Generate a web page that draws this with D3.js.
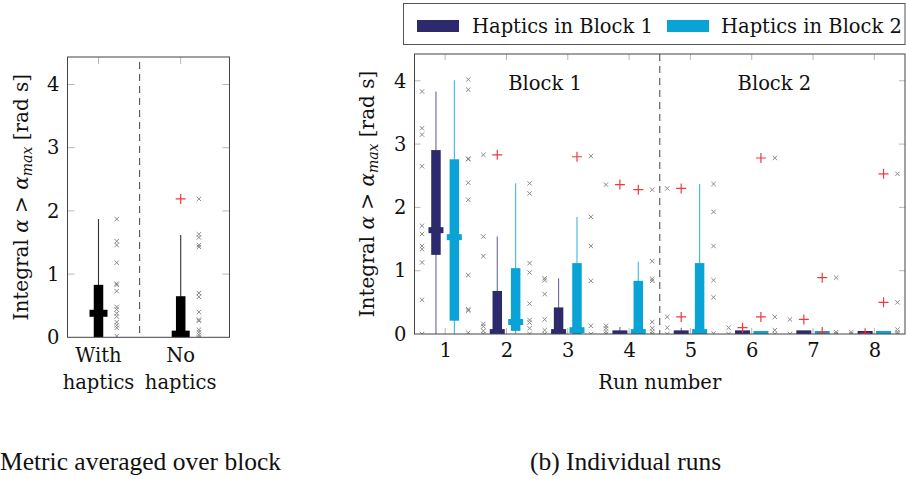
<!DOCTYPE html>
<html><head><meta charset="utf-8">
<script src="https://cdn.jsdelivr.net/npm/d3@7/dist/d3.min.js"></script>
<style>
body{margin:0;background:#fff}
svg text{font-family:"DejaVu Serif",serif;fill:#111}
svg text.cap{font-family:"Liberation Serif",serif;fill:#111}
</style>
</head><body>
<svg id="c" width="906" height="479"></svg>
<script>
// ---------- DATA ----------
const yTicks = [0, 1, 2, 3, 4];
const runs = [1, 2, 3, 4, 5, 6, 7, 8];
const seriesNames = ["Haptics in Block 1", "Haptics in Block 2"];
const blockLabels = ["Block 1", "Block 2"];

// Haptics in Block 1 (dark)
const b1Lower  = [0, 0, 0, 0, 0, 0, 0, 0];
const b1Q1     = [1.25, 0, 0, 0, 0, 0, 0, 0];
const b1Median = [1.64, 0.03, 0.03, 0.01, 0.01, 0.01, 0.01, 0.0];
const b1Q3     = [2.905, 0.68, 0.42, 0.04, 0.04, 0.03, 0.03, 0.02];
const b1Upper  = [3.83, 1.54, 0.88, 0.11, 0.10, 0.05, 0.04, 0.03];
const b1Outliers = [[], [2.83], [], [2.36], [2.30, 0.27], [0.10], [0.23], [0.01]];
const b1Points = [
  [3.83, 3.25, 3.15, 2.65, 1.71, 1.58, 1.39, 1.34, 1.13, 0.54, 0],
  [2.83, 1.54, 1.23, 0.16, 0.12, 0.05, 0],
  [0.88, 0.85, 0.63, 0.23, 0.06, 0],
  [2.36, 0.13, 0.09, 0.04, 0],
  [2.30, 0.27, 0.10, 0],
  [0.10, 0],
  [0.23, 0],
  [0.03, 0]
];

// Haptics in Block 2 (light)
const b2Lower  = [0, 0, 0, 0, 0, 0, 0, 0];
const b2Q1     = [0.21, 0.05, 0, 0, 0, 0, 0, 0];
const b2Median = [1.53, 0.19, 0.06, 0.03, 0.03, 0.0, 0.0, 0.0];
const b2Q3     = [2.76, 1.04, 1.12, 0.84, 1.12, 0.02, 0.02, 0.02];
const b2Upper  = [4.01, 2.38, 1.85, 1.14, 2.37, 0.03, 0.03, 0.03];
const b2Outliers = [[], [], [2.80], [2.28], [], [2.78, 0.27], [0.89, 0.03], [2.53, 0.50]];
const b2Points = [
  [4.02, 3.86, 2.77, 2.76, 2.39, 2.12, 0.93, 0.39, 0.37, 0.02],
  [2.38, 2.22, 1.12, 0.97, 0.48, 0.22, 0.18, 0.09, 0],
  [2.81, 1.85, 1.39, 0.84, 0.13, 0],
  [2.28, 1.15, 0.87, 0.84, 0.19, 0.09, 0.04, 0],
  [2.37, 1.93, 1.39, 0.85, 0.58, 0.01],
  [2.78, 0.27, 0.06, 0],
  [0.89, 0.03, 0],
  [2.53, 0.50, 0.07, 0.03, 0]
];

// Averaged over block
const avgCategories = [["With", "haptics"], ["No", "haptics"]];
const avgLower  = [0, 0];
const avgQ1     = [0, 0];
const avgMedian = [0.38, 0.05];
const avgQ3     = [0.83, 0.65];
const avgUpper  = [1.87, 1.62];
const avgOutliers = [[], [2.19]];
const avgPoints = [
  [1.87, 1.52, 1.46, 1.18, 0.85, 0.83, 0.73, 0.48, 0.44, 0.38, 0.33, 0.24, 0.19, 0.15, 0.02],
  [2.19, 1.63, 1.58, 1.46, 1.43, 0.70, 0.64, 0.40, 0.28, 0.26, 0.12, 0.08, 0.04, 0.0]
];

const yLabelParts = ["Integral ", "α", " > ", "α", "max", " [rad s]"];
const xLabelRight = "Run number";
const captions = ["Metric averaged over block", "(b) Individual runs"];

// ---------- STYLE ----------
const DARK = "#2c2a6c", LIGHT = "#0aa3d6";
const DARK_W = "#6a6a9c", LIGHT_W = "#3cb8e2";
const FS = 19.5;

const svg = d3.select("#c");

function crossPath(s){ return `M${-s},${-s}L${s},${s}M${-s},${s}L${s},${-s}`; }
function plusPath(s){ return `M${-s},0L${s},0M0,${-s}L0,${s}`; }

function drawBox(g, cx, lo, q1, med, q3, hi, y, col, wcol, bw, mw, mh){
  g.append("line").attr("x1",cx).attr("x2",cx).attr("y1",y(lo)).attr("y2",y(hi))
    .attr("stroke",wcol).attr("stroke-width",1.1);
  g.append("rect").attr("x",cx-bw/2).attr("width",bw)
    .attr("y",y(q3)).attr("height",Math.max(0,y(q1)-y(q3))).attr("fill",col);
  g.append("rect").attr("x",cx-mw/2).attr("width",mw)
    .attr("y",y(med)-mh/2).attr("height",mh).attr("fill",col);
}

function frameAndTicks(g, x0, x1, yTop, yBot, y, xTickPos, tl){
  yTicks.forEach(t=>{
    if(t===0) return;
    g.append("line").attr("x1",x0).attr("x2",x0+tl).attr("y1",y(t)).attr("y2",y(t)).attr("stroke","#b8b8b8");
    g.append("line").attr("x1",x1-tl).attr("x2",x1).attr("y1",y(t)).attr("y2",y(t)).attr("stroke","#b8b8b8");
  });
  xTickPos.forEach(px=>{
    g.append("line").attr("x1",px).attr("x2",px).attr("y1",yTop).attr("y2",yTop+tl).attr("stroke","#b8b8b8");
    g.append("line").attr("x1",px).attr("x2",px).attr("y1",yBot-tl).attr("y2",yBot).attr("stroke","#b8b8b8");
  });
}

function yAxisLabel(x, yc){
  const fs = 20;
  const t = svg.append("text").attr("transform",`translate(${x},${yc}) rotate(-90)`)
    .attr("text-anchor","middle").attr("font-size",fs);
  t.append("tspan").text(yLabelParts[0]);
  t.append("tspan").attr("font-style","italic").text(yLabelParts[1]);
  t.append("tspan").text(yLabelParts[2]);
  t.append("tspan").attr("font-style","italic").text(yLabelParts[3]);
  t.append("tspan").attr("font-style","italic").attr("font-size",fs*0.7).attr("dy",4).text(yLabelParts[4]);
  t.append("tspan").attr("dy",-4).text(yLabelParts[5]);
}

// ---------- LEFT PANEL ----------
{
  const L = {x0:67.5, x1:229.5, top:57, bot:337.3};
  const y = d3.scaleLinear().domain([0, 4.435]).range([L.bot, L.top]);
  const x = d3.scaleLinear().domain([1, 2]).range([98.5, 180.7]);
  const g = svg.append("g");
  svg.append("clipPath").attr("id","clipL").append("rect")
    .attr("x",L.x0).attr("y",L.top).attr("width",L.x1-L.x0).attr("height",L.bot-L.top);
  frameAndTicks(g, L.x0, L.x1, L.top, L.bot, y, [x(1), x(2)], 7);
  g.append("line").attr("x1",x(1.5)).attr("x2",x(1.5)).attr("y1",L.top+5).attr("y2",L.bot)
    .attr("stroke","#555").attr("stroke-dasharray","7,5").attr("stroke-width",1.1);
  const pg = g.append("g").attr("clip-path","url(#clipL)");
  avgCategories.forEach((c,i)=>{
    const cx = x(i+1);
    drawBox(pg, cx, avgLower[i], avgQ1[i], avgMedian[i], avgQ3[i], avgUpper[i], y, "#000", "#333", 9.5, 18, 7);
    avgOutliers[i].forEach(v=>{
      pg.append("path").attr("d",plusPath(5)).attr("transform",`translate(${cx},${y(v)})`)
        .attr("stroke","#ee3a3f").attr("stroke-width",1.2).attr("fill","none");
    });
    avgPoints[i].forEach(v=>{
      pg.append("path").attr("d",crossPath(2.2)).attr("transform",`translate(${cx+18.2},${y(v)})`)
        .attr("stroke","#8a8a8a").attr("stroke-width",1).attr("fill","none");
    });
    c.forEach((s,k)=>{
      svg.append("text").attr("x",cx).attr("y",k===0?362:389).attr("text-anchor","middle")
        .attr("font-size",FS).text(s);
    });
  });
  g.append("rect").attr("x",L.x0).attr("y",L.top).attr("width",L.x1-L.x0).attr("height",L.bot-L.top)
    .attr("fill","none").attr("stroke","#444").attr("stroke-width",1);
  const ax = d3.axisLeft(y).tickValues(yTicks).tickSize(0).tickPadding(8).tickFormat(d3.format("d"));
  const ag = svg.append("g").attr("transform",`translate(${L.x0},0)`).call(ax);
  ag.select(".domain").remove();
  ag.selectAll("text").attr("font-size",FS).attr("font-family","DejaVu Serif").attr("fill","#111");
  yAxisLabel(28, (L.top+L.bot)/2);
}

// ---------- RIGHT PANEL ----------
{
  const R = {x0:414.5, x1:905, top:54, bot:334};
  const y = d3.scaleLinear().domain([0, 4.423]).range([R.bot, R.top]);
  const x = d3.scaleLinear().domain([0.5, 8.5]).range([R.x0, R.x1]);
  const g = svg.append("g");
  svg.append("clipPath").attr("id","clipR").append("rect")
    .attr("x",R.x0).attr("y",R.top).attr("width",R.x1-R.x0).attr("height",R.bot-R.top);
  frameAndTicks(g, R.x0, R.x1, R.top, R.bot, y, runs.map(r=>x(r)), 6);
  g.append("line").attr("x1",x(4.5)).attr("x2",x(4.5)).attr("y1",R.top).attr("y2",R.bot)
    .attr("stroke","#555").attr("stroke-dasharray","7,5").attr("stroke-width",1.1);
  const pg = g.append("g").attr("clip-path","url(#clipR)");
  const off = 0.15, poff = 0.377;
  runs.forEach((r,i)=>{
    const cd = x(r-off), cl = x(r+off);
    drawBox(pg, cd, b1Lower[i], b1Q1[i], b1Median[i], b1Q3[i], b1Upper[i], y, DARK, DARK_W, 9.5, 15, 6);
    drawBox(pg, cl, b2Lower[i], b2Q1[i], b2Median[i], b2Q3[i], b2Upper[i], y, LIGHT, LIGHT_W, 9.5, 15, 6);
    b1Points[i].forEach(v=>{
      pg.append("path").attr("d",crossPath(2.2)).attr("transform",`translate(${x(r-poff)},${y(v)})`)
        .attr("stroke","#8a8a8a").attr("stroke-width",1).attr("fill","none");
    });
    b2Points[i].forEach(v=>{
      pg.append("path").attr("d",crossPath(2.2)).attr("transform",`translate(${x(r+poff)},${y(v)})`)
        .attr("stroke","#8a8a8a").attr("stroke-width",1).attr("fill","none");
    });
    b1Outliers[i].forEach(v=>{
      pg.append("path").attr("d",plusPath(5)).attr("transform",`translate(${cd},${y(v)})`)
        .attr("stroke","#ee3a3f").attr("stroke-width",1.2).attr("fill","none");
    });
    b2Outliers[i].forEach(v=>{
      pg.append("path").attr("d",plusPath(5)).attr("transform",`translate(${cl},${y(v)})`)
        .attr("stroke","#ee3a3f").attr("stroke-width",1.2).attr("fill","none");
    });
  });
  g.append("rect").attr("x",R.x0).attr("y",R.top).attr("width",R.x1-R.x0).attr("height",R.bot-R.top)
    .attr("fill","none").attr("stroke","#444").attr("stroke-width",1);
  const ax = d3.axisLeft(y).tickValues(yTicks).tickSize(0).tickPadding(8).tickFormat(d3.format("d"));
  const ag = svg.append("g").attr("transform",`translate(${R.x0},0)`).call(ax);
  ag.select(".domain").remove();
  ag.selectAll("text").attr("font-size",FS).attr("font-family","DejaVu Serif").attr("fill","#111");
  const bx = d3.axisBottom(x).tickValues(runs).tickSize(0).tickPadding(0).tickFormat(d3.format("d"));
  const bg = svg.append("g").attr("transform",`translate(0,${R.bot})`).call(bx);
  bg.select(".domain").remove();
  bg.selectAll("text").attr("font-size",FS).attr("font-family","DejaVu Serif").attr("fill","#111")
    .attr("dy",null).attr("y",23);
  svg.append("text").attr("x",x(4.5)).attr("y",389).attr("text-anchor","middle").attr("font-size",FS).text(xLabelRight);
  svg.append("text").attr("x",x(2.63)).attr("y",90).attr("text-anchor","middle").attr("font-size",FS).text(blockLabels[0]);
  svg.append("text").attr("x",x(6.37)).attr("y",90).attr("text-anchor","middle").attr("font-size",FS).text(blockLabels[1]);
  yAxisLabel(374, (R.top+R.bot)/2);

  // legend
  svg.append("rect").attr("x",403.5).attr("y",3.5).attr("width",501.5).attr("height",41)
    .attr("fill","#fff").attr("stroke","#555").attr("stroke-width",1);
  const lx = [417, 667], tx = [472, 721];
  [DARK, LIGHT].forEach((c,i)=>{
    svg.append("rect").attr("x",lx[i]).attr("y",20).attr("width",42).attr("height",12).attr("fill",c);
    svg.append("text").attr("x",tx[i]).attr("y",33).attr("font-size",FS).text(seriesNames[i]);
  });
}

// captions
svg.append("text").attr("class","cap").attr("x",0).attr("y",470).attr("font-size",25.5).text(captions[0]);
svg.append("text").attr("class","cap").attr("x",530).attr("y",470).attr("font-size",25.5).text(captions[1]);
</script>
</body></html>
